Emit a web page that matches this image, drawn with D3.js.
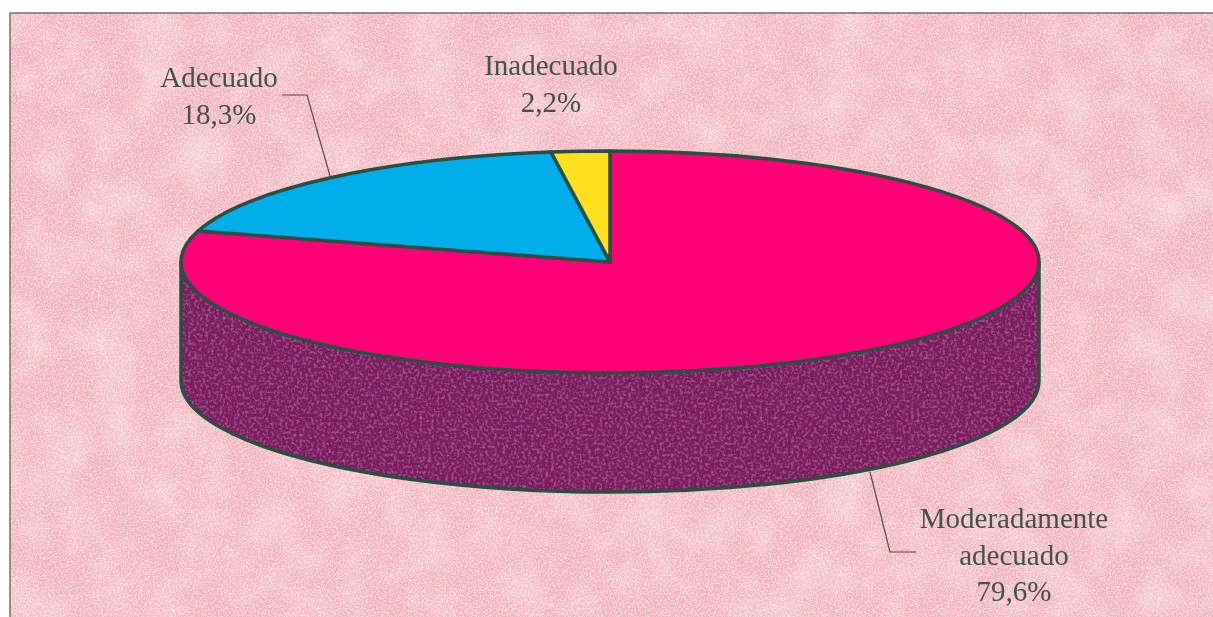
<!DOCTYPE html>
<html>
<head>
<meta charset="utf-8">
<script src="https://cdn.jsdelivr.net/npm/d3@7"></script>
<style>
  html, body { margin: 0; padding: 0; background: #fff; overflow: hidden; }
  text { font-family: "Liberation Serif", serif; font-size: 29px; fill: #43524a; }
</style>
</head>
<body>
<div id="chart"></div>
<script>
// values, in drawing order (clockwise from 12 o'clock)
const categories = ["Moderadamente adecuado", "Adecuado", "Inadecuado"];
const values = [79.6, 18.3, 2.2];
const colors = ["#ff0076", "#00aeea", "#ffe01e"];
const valueLabels = ["79,6%", "18,3%", "2,2%"];

const width = 1213, height = 617;
const cx = 610, cy = 262, rx = 429, ry = 111, depth = 119;
const outline = "#2b4f42";

const svg = d3.select("#chart").append("svg")
  .attr("width", width)
  .attr("height", height);

// paper texture for the panel
const defs = svg.append("defs");
const paper = defs.append("filter").attr("id", "paper")
  .attr("x", 0).attr("y", 0).attr("width", "100%").attr("height", "100%");
paper.append("feTurbulence").attr("type", "fractalNoise").attr("baseFrequency", 0.022)
  .attr("numOctaves", 4).attr("seed", 4).attr("result", "coarse");
paper.append("feColorMatrix").attr("in", "coarse").attr("type", "matrix")
  .attr("values", "0 0 0 0 1  0 0 0 0 0.9  0 0 0 0 0.9  0.9 0 0 0 -0.36")
  .attr("result", "blotch");
paper.append("feTurbulence").attr("type", "fractalNoise").attr("baseFrequency", 0.6)
  .attr("numOctaves", 2).attr("seed", 9).attr("result", "fine");
paper.append("feColorMatrix").attr("in", "fine").attr("type", "matrix")
  .attr("values", "0 0 0 0 1  0 0 0 0 0.95  0 0 0 0 0.95  2 0 0 0 -0.82")
  .attr("result", "light");
paper.append("feColorMatrix").attr("in", "fine").attr("type", "matrix")
  .attr("values", "0 0 0 0 0.85  0 0 0 0 0.42  0 0 0 0 0.5  0 1.8 0 0 -0.85")
  .attr("result", "grain");
paper.append("feMerge").selectAll("feMergeNode")
  .data(["SourceGraphic", "blotch", "light", "grain"])
  .enter().append("feMergeNode").attr("in", d => d);

// same grain, darker, for the side of the disc
const wall = defs.append("filter").attr("id", "wall");
wall.append("feTurbulence").attr("type", "fractalNoise").attr("baseFrequency", 0.35)
  .attr("numOctaves", 2).attr("seed", 3).attr("result", "fine");
wall.append("feColorMatrix").attr("in", "fine").attr("type", "matrix")
  .attr("values", "0 0 0 0 0.6  0 0 0 0 0.2  0 0 0 0 0.48  1.2 0 0 0 -0.55")
  .attr("result", "speck");
wall.append("feComposite").attr("in", "speck").attr("in2", "SourceGraphic")
  .attr("operator", "in").attr("result", "clipped");
wall.append("feMerge").selectAll("feMergeNode")
  .data(["SourceGraphic", "clipped"])
  .enter().append("feMergeNode").attr("in", d => d);

// slight softness of the scan
const soft = defs.append("filter").attr("id", "soft")
  .attr("filterUnits", "userSpaceOnUse")
  .attr("x", 0).attr("y", 0).attr("width", width).attr("height", height);
soft.append("feGaussianBlur").attr("stdDeviation", 0.7);

const page = svg.append("g").attr("filter", "url(#soft)");

page.append("rect")
  .attr("x", 10).attr("y", 13)
  .attr("width", width - 10).attr("height", height - 13)
  .attr("fill", "#f3b2bd")
  .attr("filter", "url(#paper)");
page.append("path")
  .attr("d", `M10,${height}V13H${width}`)
  .attr("fill", "none").attr("stroke", "#77706f").attr("stroke-width", 1.5);

// side wall of the disc
page.append("path")
  .attr("d", `M${cx - rx},${cy}V${cy + depth}A${rx},${ry} 0 0 0 ${cx + rx},${cy + depth}V${cy}A${rx},${ry} 0 0 1 ${cx - rx},${cy}Z`)
  .attr("fill", "#7a1a5e")
  .attr("filter", "url(#wall)");
page.append("path")
  .attr("d", `M${cx - rx},${cy}V${cy + depth}A${rx},${ry} 0 0 0 ${cx + rx},${cy + depth}V${cy}`)
  .attr("fill", "none")
  .attr("stroke", outline)
  .attr("stroke-width", 3.5);

// top of the disc: a normal pie squashed into an ellipse
const pie = d3.pie().sort(null);
const arc = d3.arc().innerRadius(0).outerRadius(rx);
page.append("g")
  .attr("transform", `translate(${cx},${cy}) scale(1,${ry / rx})`)
  .selectAll("path")
  .data(pie(values))
  .enter().append("path")
  .attr("d", arc)
  .attr("fill", (d, i) => colors[i])
  .attr("stroke", outline)
  .attr("stroke-width", 3.5)
  .attr("stroke-linejoin", "round")
  .attr("vector-effect", "non-scaling-stroke");

// leader lines
const leaders = [
  [[282, 95], [307, 95], [330, 176]],
  [[916, 552], [890, 552], [870, 472]],
];
page.selectAll(".leader")
  .data(leaders)
  .enter().append("path")
  .attr("class", "leader")
  .attr("d", d3.line())
  .attr("fill", "none")
  .attr("stroke", "#4d4f48")
  .attr("stroke-width", 1.2);

// labels
const labelLines = [
  ["Moderadamente", "adecuado", valueLabels[0]],
  [categories[1], valueLabels[1]],
  [categories[2], valueLabels[2]],
];
const labelPos = [[1014, 528], [219, 87], [551, 75]];
labelLines.forEach((lines, i) => {
  const t = page.append("text").attr("text-anchor", "middle");
  lines.forEach((s, j) => {
    t.append("tspan")
      .attr("x", labelPos[i][0])
      .attr("y", labelPos[i][1] + j * 36.5)
      .text(s);
  });
});
</script>
</body>
</html>
